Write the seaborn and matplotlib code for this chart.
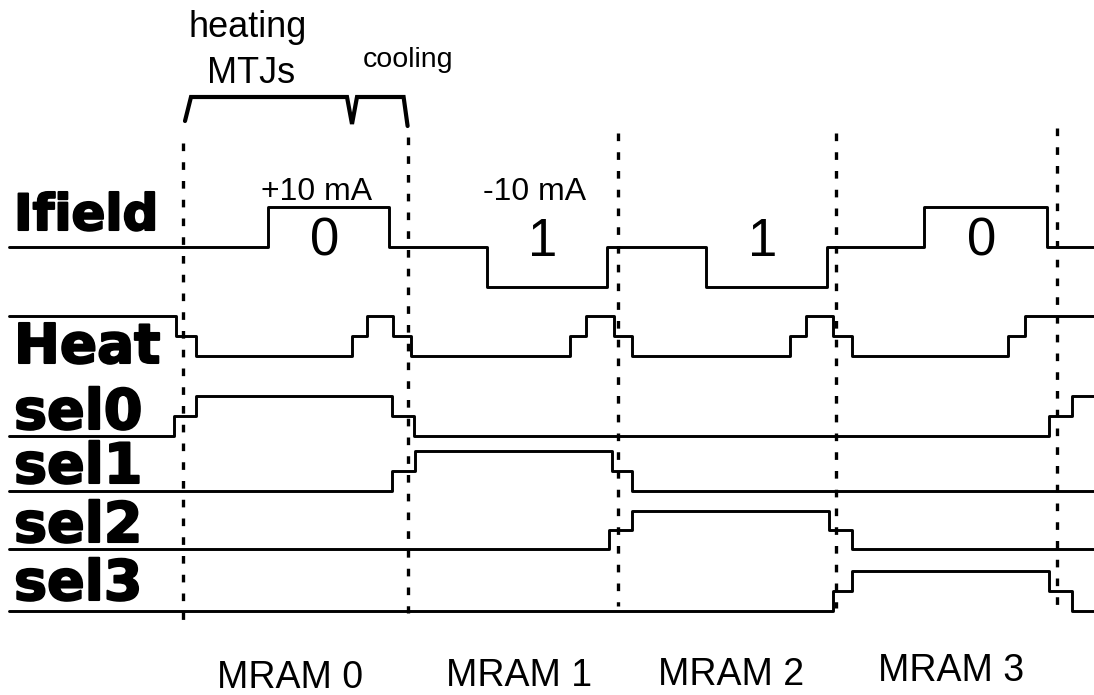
import pandas as pd
import seaborn as sns
import matplotlib.pyplot as plt
import matplotlib.patheffects as pe

# --- waveform data: edge times (time axis = drawing x units) and logic levels
t_ifield = [9, 268, 389, 487, 607, 706, 827, 924, 1047, 1094]
ifield = [0, 1, 0, -1, 0, -1, 0, 1, 0, 0]

t_heat = [9, 176, 196, 352, 367, 393, 411, 570, 586, 614, 632, 790, 806, 833, 852, 1008, 1025, 1094]
heat = [1, .5, 0, .5, 1, .5, 0, .5, 1, .5, 0, .5, 1, .5, 0, .5, 1, 1]

t_sel0 = [9, 174, 196, 392, 414, 1049, 1072, 1094]
sel0 = [0, .5, 1, .5, 0, .5, 1, 1]

t_sel1 = [9, 392, 415, 612, 632, 1094]
sel1 = [0, .5, 1, .5, 0, 0]

t_sel2 = [9, 609, 632, 829, 852, 1094]
sel2 = [0, .5, 1, .5, 0, 0]

t_sel3 = [9, 833, 852, 1049, 1072, 1094]
sel3 = [0, .5, 1, .5, 0, 0]

signals = ['Ifield', 'Heat', 'sel0', 'sel1', 'sel2', 'sel3']
times = [t_ifield, t_heat, t_sel0, t_sel1, t_sel2, t_sel3]
levels = [ifield, heat, sel0, sel1, sel2, sel3]

# phases (one MRAM per slot), heating ends inside slot 0
phase_edges = [183, 407.6, 618, 836, 1057]
heating_end = 352
mram_labels = ['MRAM 0', 'MRAM 1', 'MRAM 2', 'MRAM 3']
bits = ['0', '1', '1', '0']
currents = ['+10 mA', '-10 mA']

# --- layout (pixels of a 1094x695 canvas, y down)
row_base = [247, 356, 436, 491, 549, 611]
row_amp = [40, 40, 40, 40, 38, 40]
label_base = [230, 363, 429, 483, 542, 600]
label_size = [36, 39.5, 40, 40, 40, 40]
dot_top = [143, 137, 133, 133, 128]
dot_bot = [625, 613, 606, 608, 607]
mram_base = [688, 686, 685, 681]
mram_dx = [-5, 6, 4, 5]

sns.set_theme(style='white')
plt.rcParams['font.family'] = ['Liberation Sans', 'DejaVu Sans']
plt.rcParams['text.color'] = 'black'
plt.rcParams['lines.scale_dashes'] = False

fig = plt.figure(figsize=(10.94, 6.95), dpi=100)
ax = fig.add_axes([0, 0, 1, 1])

rows = []
for name, t, lv, b, a in zip(signals, times, levels, row_base, row_amp):
    for ti, li in zip(t, lv):
        rows.append({'signal': name, 't': ti, 'y': b - li * a})
df = pd.DataFrame(rows)

for name in signals:
    sub = df[df.signal == name]
    sns.lineplot(data=sub, x='t', y='y', estimator=None, sort=False,
                 drawstyle='steps-post', color='black', lw=2.1, ax=ax)

# signal names, heavy font
for name, yb, fs in zip(signals, label_base, label_size):
    ax.text(14, yb, name, fontsize=fs, fontweight='bold', family='DejaVu Sans',
            va='baseline', ha='left', color='black',
            path_effects=[pe.withStroke(linewidth=1.5, foreground='black')])

# dotted phase separators
for x, y0, y1 in zip(phase_edges, dot_top, dot_bot):
    ax.plot([x, x], [y0, y1], color='black', lw=2.4, linestyle=(0, (5.5, 8)),
            solid_capstyle='butt', dash_capstyle='butt')

# bit values and currents inside the Ifield pulses
pulse_starts = [t_ifield[i] for i in range(len(ifield) - 1) if ifield[i] != 0]
pulse_ends = [t_ifield[i + 1] for i in range(len(ifield) - 1) if ifield[i] != 0]
for k, (s, e, b) in enumerate(zip(pulse_starts, pulse_ends, bits)):
    cx = (s + e) / 2 - 4
    ax.text(cx, 256, b, fontsize=38, ha='center', va='baseline', color='black')
    if k < len(currents):
        ax.text((s + e) / 2 - 12, 200, currents[k], fontsize=23,
                ha='center', va='baseline', color='black')

# brace over heating / cooling
x0, x1, x2 = phase_edges[0] + 2, heating_end, phase_edges[1]
bx = [x0, x0 + 6, x1 - 5, x1, x1 + 5, x2 - 4, x2]
by = [121, 97, 97, 124, 97, 97, 126]
ax.plot(bx, by, color='black', lw=3.0, solid_joinstyle='miter')
ax.text(248, 37, 'heating', fontsize=26, ha='center', va='baseline', color='black')
ax.text(251, 83, 'MTJs', fontsize=26, ha='center', va='baseline', color='black')
ax.text(408, 67, 'cooling', fontsize=20.5, ha='center', va='baseline', color='black')

# MRAM slot labels
for i, lab in enumerate(mram_labels):
    cx = (phase_edges[i] + phase_edges[i + 1]) / 2 + mram_dx[i]
    ax.text(cx, mram_base[i], lab, fontsize=27,
            family=['Liberation Sans Narrow', 'Liberation Sans'],
            ha='center', va='baseline', color='black')

ax.set_xlim(0, 1094)
ax.set_ylim(695, 0)
ax.axis('off')
fig.savefig('out.png', dpi=100, facecolor='white')
